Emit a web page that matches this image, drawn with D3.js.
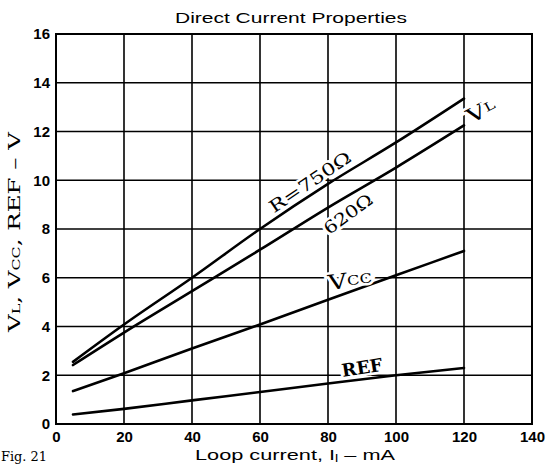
<!DOCTYPE html>
<html>
<head>
<meta charset="utf-8">
<script src="https://cdn.jsdelivr.net/npm/d3@7"></script>
<style>
    body { margin: 0; background: #fff; }
    svg { display: block; }
</style>
</head>
<body>
<div id="chart"></div>
<script>
// values (loop current in mA, voltages in V)
const current = [5, 20, 40, 60, 80, 100, 120];
const vl750 = [2.55, 4.08, 6.0, 8.0, 9.85, 11.55, 13.35];
const vl620 = [2.42, 3.75, 5.45, 7.15, 8.88, 10.52, 12.25];
const vcc = [1.35, 2.08, 3.1, 4.08, 5.1, 6.1, 7.1];
const ref = [0.39, 0.62, 0.97, 1.31, 1.66, 2.0, 2.3];

const xTicks = [0, 20, 40, 60, 80, 100, 120, 140];
const yTicks = [0, 2, 4, 6, 8, 10, 12, 14, 16];

const width = 546;
const height = 466;
const margin = { top: 34, right: 14, bottom: 42, left: 56 };
const serif = "'DejaVu Serif', 'Liberation Serif', serif";
const sans = "'Liberation Sans', Arial, sans-serif";

const svg = d3.select("#chart")
    .append("svg")
    .attr("width", width)
    .attr("height", height);

const x = d3.scaleLinear().domain([0, 140]).range([margin.left, width - margin.right]);
const y = d3.scaleLinear().domain([0, 16]).range([height - margin.bottom, margin.top]);

// grid
svg.append("g")
    .selectAll("line.vx")
    .data(xTicks.slice(1, -1))
    .enter()
    .append("line")
    .attr("x1", (d) => x(d)).attr("x2", (d) => x(d))
    .attr("y1", y(0)).attr("y2", y(16))
    .attr("stroke", "#000").attr("stroke-width", 1.6);

svg.append("g")
    .selectAll("line.hy")
    .data(yTicks.slice(1, -1))
    .enter()
    .append("line")
    .attr("x1", x(0)).attr("x2", x(140))
    .attr("y1", (d) => y(d)).attr("y2", (d) => y(d))
    .attr("stroke", "#000").attr("stroke-width", 1.6);

svg.append("rect")
    .attr("x", x(0)).attr("y", y(16))
    .attr("width", x(140) - x(0)).attr("height", y(0) - y(16))
    .attr("fill", "none").attr("stroke", "#000").attr("stroke-width", 2);

// axes (labels only)
const xAxis = svg.append("g")
    .attr("transform", `translate(0, ${y(0)})`)
    .call(d3.axisBottom(x).tickValues(xTicks).tickSize(0).tickPadding(7));
const yAxis = svg.append("g")
    .attr("transform", `translate(${x(0)}, 0)`)
    .call(d3.axisLeft(y).tickValues(yTicks).tickSize(0).tickPadding(6));
[xAxis, yAxis].forEach((g) => {
    g.select(".domain").remove();
    g.selectAll("text")
        .attr("font-family", sans)
        .attr("font-size", 15)
        .attr("font-weight", "bold")
        .attr("fill", "#000");
});

// curves
const line = d3.line()
    .x((d) => x(d[0]))
    .y((d) => y(d[1]))
    .curve(d3.curveMonotoneX);

[vl750, vl620, vcc, ref].forEach((series) => {
    svg.append("path")
        .attr("d", line(current.map((c, i) => [c, series[i]])))
        .attr("fill", "none")
        .attr("stroke", "#000")
        .attr("stroke-width", 2.6)
        .attr("stroke-linecap", "round");
});

// curve labels
function label(px, py, angle, size, parts, len) {
    const t = svg.append("text")
        .attr("transform", `translate(${x(px)}, ${y(py)}) rotate(${angle})`)
        .attr("text-anchor", "middle")
        .attr("dominant-baseline", "central")
        .attr("font-family", serif)
        .attr("font-size", size)
        .attr("fill", "#000")
        .attr("stroke", "#fff")
        .attr("stroke-width", 5)
        .attr("paint-order", "stroke");
    parts.forEach((p) => {
        t.append("tspan").attr("font-size", p.size || size).text(p.text);
    });
    if (len) t.attr("textLength", len).attr("lengthAdjust", "spacingAndGlyphs");
    return t;
}

label(74.7, 9.93, -34, 17, [{ text: "R=750Ω" }], 95);
label(85.9, 8.62, -36, 17, [{ text: "620Ω" }], 56);
label(125, 12.85, -28, 20, [{ text: "V" }, { text: "L", size: 12 }], 30);
label(86.5, 5.9, -8, 21, [{ text: "V" }, { text: "CC", size: 13 }], 44);
label(90, 2.34, -9, 18, [{ text: "REF" }], 41).attr("font-weight", "bold");

// titles
svg.append("text")
    .attr("x", 291).attr("y", 23)
    .attr("text-anchor", "middle")
    .attr("font-family", sans)
    .attr("font-size", 15)
    .attr("textLength", 232)
    .attr("lengthAdjust", "spacingAndGlyphs")
    .text("Direct Current Properties");

const xTitle = svg.append("text")
    .attr("x", 295).attr("y", 460)
    .attr("text-anchor", "middle")
    .attr("font-family", sans)
    .attr("font-size", 15)
    .attr("textLength", 200)
    .attr("lengthAdjust", "spacingAndGlyphs");
xTitle.append("tspan").text("Loop current, I");
xTitle.append("tspan").attr("font-size", 10).attr("dy", 2).text("l");
xTitle.append("tspan").attr("dy", -2).text(" – mA");

const yTitle = svg.append("text")
    .attr("transform", "translate(20, 232) rotate(-90)")
    .attr("text-anchor", "middle")
    .attr("font-family", serif)
    .attr("font-size", 17)
    .attr("textLength", 200)
    .attr("lengthAdjust", "spacingAndGlyphs");
yTitle.append("tspan").text("V");
yTitle.append("tspan").attr("font-size", 11).text("L");
yTitle.append("tspan").text(", V");
yTitle.append("tspan").attr("font-size", 11).text("CC");
yTitle.append("tspan").text(", REF  –  V");

svg.append("text")
    .attr("x", 1).attr("y", 461)
    .attr("font-family", serif)
    .attr("font-size", 13)
    .attr("textLength", 46)
    .attr("lengthAdjust", "spacingAndGlyphs")
    .text("Fig. 21");
</script>
</body>
</html>
